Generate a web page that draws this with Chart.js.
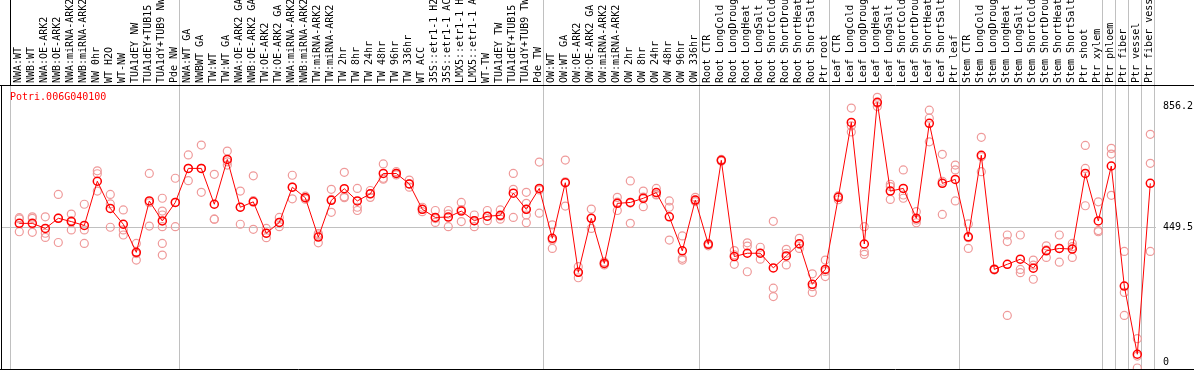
<!DOCTYPE html>
<html>
<head>
<meta charset="utf-8">
<script src="https://cdn.jsdelivr.net/npm/chart.js@4.4.1/dist/chart.umd.min.js"></script>
<style>
  html, body { margin: 0; padding: 0; background: #fff; }
  #wrap { position: relative; width: 1194px; height: 370px; }
</style>
</head>
<body>
<div id="wrap"><canvas id="exprChart"></canvas></div>
<script>
// Expression profile for one gene across the sample panel
const geneId = 'Potri.006G040100';

const samples = [
  'NWA:WT', 'NWB:WT', 'NWA:OE-ARK2', 'NWB:OE-ARK2', 'NWA:miRNA-ARK2', 'NWB:miRNA-ARK2',
  'NW 0hr', 'WT H2O', 'WT-NW', 'TUA1dEY NW', 'TUA1dEY+TUB15 NW', 'TUA1dY+TUB9 NW', 'Pde NW',
  'NWA:WT GA', 'NWBWT GA', 'TW:WT', 'TW:WT GA', 'NWA:OE-ARK2 GA', 'NWB:OE-ARK2 GA',
  'TW:OE-ARK2', 'TW:OE-ARK2 GA', 'NWA:miRNA-ARK2', 'NWB:miRNA-ARK2', 'TW:miRNA-ARK2', 'TW:miRNA-ARK2',
  'TW 2hr', 'TW 8hr', 'TW 24hr', 'TW 48hr', 'TW 96hr', 'TW 336hr', 'WT ACC',
  '35S::etr1-1 H2O', '35S::etr1-1 ACC', 'LMX5::etr1-1 H2O', 'LMX5::etr1-1 ACC',
  'WT-TW', 'TUA1dEY TW', 'TUA1dEY+TUB15 TW', 'TUA1dY+TUB9 TW', 'Pde TW',
  'OW:WT', 'OW:WT GA', 'OW:OE-ARK2', 'OW:OE-ARK2 GA', 'OW:miRNA-ARK2', 'OW:miRNA-ARK2',
  'OW 2hr', 'OW 8hr', 'OW 24hr', 'OW 48hr', 'OW 96hr', 'OW 336hr',
  'Root CTR', 'Root LongCold', 'Root LongDrought', 'Root LongHeat', 'Root LongSalt',
  'Root ShortCold', 'Root ShortDrought', 'Root ShortHeat', 'Root ShortSalt', 'Ptr root',
  'Leaf CTR', 'Leaf LongCold', 'Leaf LongDrought', 'Leaf LongHeat', 'Leaf LongSalt',
  'Leaf ShortCold', 'Leaf ShortDrought', 'Leaf ShortHeat', 'Leaf ShortSalt', 'Ptr leaf',
  'Stem CTR', 'Stem LongCold', 'Stem LongDrought', 'Stem LongHeat', 'Stem LongSalt',
  'Stem ShortCold', 'Stem ShortDrought', 'Stem ShortHeat', 'Stem ShortSalt', 'Ptr shoot', 'Ptr xylem',
  'Ptr phloem', 'Ptr fiber', 'Ptr vessel', 'Ptr fiber vessel'
];

const meanValues = [
  464, 464, 447, 481, 470, 457, 605, 514, 461, 367, 539, 472, 534,
  648, 648, 528, 678, 518, 536, 431, 467, 585, 550, 418, 541, 580, 539, 563,
  631, 631, 596, 511, 484, 485, 505, 473, 488, 491, 565, 511, 581,
  414, 600, 300, 481, 330, 531, 534, 548, 567, 486, 372, 542,
  394, 675, 353, 364, 364, 315, 355, 396, 260, 310,
  551, 802, 395, 869, 572, 581, 481, 799, 598, 611,
  419, 692, 310, 327, 344, 314, 372, 380, 378, 631, 472,
  656, 254, 26, 598
];

const replicates = [
  [483, 479, 436], [486, 481, 434], [486, 431, 417], [561, 482, 400], [495, 473, 442],
  [528, 442, 397], [640, 630, 572], [561, 529, 451], [509, 442, 425], [397, 363, 341],
  [631, 533, 455], [548, 505, 492, 453, 397, 358], [615, 534, 453],
  [693, 648, 607], [726, 648, 568], [628, 478, 478], [706, 670, 659], [572, 518, 461],
  [623, 540, 444], [447, 431, 416], [484, 467, 453], [625, 585, 546], [555, 550, 545],
  [430, 425, 399], [578, 544, 501], [635, 553, 550], [581, 518, 507], [574, 563, 551],
  [663, 615, 612], [637, 631, 626], [609, 596, 585], [518, 511, 503], [507, 480, 467],
  [507, 495, 453], [534, 510, 470], [492, 473, 453], [507, 487, 473], [509, 488, 478],
  [631, 578, 484], [568, 531, 511, 492, 466], [669, 576, 498],
  [459, 408, 380], [676, 603, 522], [319, 300, 282], [512, 481, 447], [335, 330, 325],
  [551, 535, 507], [606, 532, 464], [572, 552, 520], [581, 561, 559], [539, 518, 408],
  [422, 347, 341], [551, 542, 537],
  [397, 396, 389], [678, 675, 672], [373, 359, 327], [399, 388, 302], [384, 364, 344],
  [471, 247, 219], [377, 364, 325], [414, 394, 380], [295, 252, 233], [341, 303, 286],
  [556, 554, 543], [850, 790, 770], [453, 369, 360], [886, 866, 855], [595, 587, 544],
  [643, 559, 548], [503, 475, 466], [843, 816, 737], [695, 605, 494], [659, 643, 539],
  [462, 416, 380], [752, 687, 637], [312, 310, 308], [425, 403, 156], [425, 310, 299],
  [341, 324, 277], [389, 375, 350], [425, 380, 334], [397, 386, 350], [725, 648, 523],
  [536, 440, 436],
  [715, 696, 558], [370, 233, 156], [78, 20, -20], [762, 665, 370]
];

const yTicks = [0, 449.5, 856.2];
// first sample of each block (last entry closes the final block)
const groupStarts = [0, 13, 41, 53, 63, 73, 84, 85, 86, 87, 88];

const monoFont = { family: 'DejaVu Sans Mono', size: 10 };

const meanPoints = meanValues.map((v, i) => ({ x: i, y: v }));
const repPoints = [];
replicates.forEach((reps, i) => reps.forEach(v => repPoints.push({ x: i, y: v })));

// group separators, frame lines and the gene id
const framePlugin = {
  id: 'frame',
  beforeDatasetsDraw(chart) {
    const ctx = chart.ctx;
    const area = chart.chartArea;
    const xs = chart.scales.x;
    ctx.save();
    ctx.lineWidth = 1;
    ctx.strokeStyle = '#c0c0c0';
    groupStarts.forEach(i => {
      const px = Math.floor(xs.getPixelForValue(i - 0.654)) + 0.5;
      ctx.beginPath();
      ctx.moveTo(px, i === 0 ? area.top : 0);
      ctx.lineTo(px, area.bottom);
      ctx.stroke();
    });
    ctx.strokeStyle = '#000';
    ctx.beginPath();
    ctx.moveTo(0, area.top + 0.5);
    ctx.lineTo(chart.width, area.top + 0.5);
    ctx.moveTo(0, area.bottom + 0.5);
    ctx.lineTo(chart.width, area.bottom + 0.5);
    ctx.moveTo(1.5, area.top);
    ctx.lineTo(1.5, area.bottom);
    ctx.moveTo(10.5, 0);
    ctx.lineTo(10.5, area.top);
    ctx.stroke();
    ctx.restore();
  },
  afterDraw(chart) {
    const ctx = chart.ctx;
    ctx.save();
    ctx.fillStyle = '#ff0000';
    ctx.font = '10px "DejaVu Sans Mono"';
    ctx.textBaseline = 'middle';
    ctx.fillText(geneId, 10, 97);
    ctx.restore();
  }
};

new Chart(document.getElementById('exprChart'), {
  type: 'line',
  data: {
    datasets: [
      {
        label: 'mean',
        data: meanPoints,
        borderColor: '#ff0000',
        borderWidth: 1,
        pointRadius: 4,
        pointBorderWidth: 1.5,
        pointBorderColor: '#ff0000',
        pointBackgroundColor: 'rgba(0,0,0,0)',
        tension: 0
      },
      {
        label: 'replicates',
        data: repPoints,
        showLine: false,
        pointRadius: 4,
        pointBorderWidth: 1.2,
        pointBorderColor: '#ef9a9a',
        pointBackgroundColor: 'rgba(0,0,0,0)'
      }
    ]
  },
  options: {
    responsive: true,
    maintainAspectRatio: false,
    animation: false,
    layout: { autoPadding: false, padding: { left: 1, right: 0, top: 0, bottom: 1 } },
    plugins: {
      legend: { display: false },
      tooltip: { enabled: false }
    },
    scales: {
      x: {
        type: 'linear',
        position: 'top',
        min: -1.408,
        max: 87.438,
        afterBuildTicks: s => { s.ticks = samples.map((_, i) => ({ value: i })); },
        afterFit: s => {
          s.height = 85;
          s.paddingLeft = 0;
          s.paddingRight = 0;
        },
        grid: { display: false, drawTicks: false },
        border: { display: false },
        ticks: {
          autoSkip: false,
          minRotation: 90,
          maxRotation: 90,
          padding: 2,
          labelOffset: 11,
          color: '#000',
          font: monoFont,
          callback: v => samples[v]
        }
      },
      y: {
        position: 'right',
        min: -23.4,
        max: 927.1,
        afterBuildTicks: s => { s.ticks = yTicks.map(v => ({ value: v })); },
        afterFit: s => {
          s.width = 38;
          s.paddingTop = 0;
          s.paddingBottom = 0;
        },
        grid: {
          drawTicks: false,
          color: c => (c.tick && c.tick.value === 449.5) ? '#c0c0c0' : 'rgba(0,0,0,0)'
        },
        border: { display: false },
        ticks: {
          padding: 7,
          color: '#000',
          font: monoFont,
          callback: v => String(v)
        }
      }
    }
  },
  plugins: [framePlugin]
});
</script>
</body>
</html>
